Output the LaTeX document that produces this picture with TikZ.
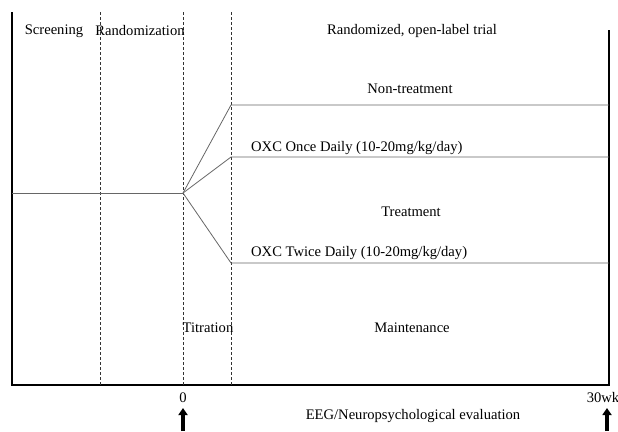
\documentclass[tikz,border=0pt]{standalone}
\usepackage{fontspec}
\setmainfont{Liberation Serif}
\usetikzlibrary{arrows.meta}
\begin{document}
\begin{tikzpicture}[x=1pt,y=-1pt,
  lbl/.style={inner sep=0pt,font=\fontsize{14.6}{16}\selectfont},
  frame/.style={line width=1.4pt,black},
  phase/.style={densely dashed,line width=0.6pt,black!80},
  arm/.style={line width=0.8pt,black!60},
  evalarrow/.style={line width=3.2pt,-{Triangle[length=7pt,width=9pt]}}]
\useasboundingbox (0,0) rectangle (618,431);
% frame
\coordinate (tl) at (12,12);
\coordinate (bl) at (12,385);
\coordinate (br) at (609,385);
\coordinate (tr) at (609,30);
\draw[frame] (tl) -- (bl) -- (br) -- (tr);
% phase dividers
\coordinate (d1t) at (100,12); \coordinate (d1b) at (100,385);
\coordinate (d2t) at (183,12); \coordinate (d2b) at (183,385);
\coordinate (d3t) at (231,12); \coordinate (d3b) at (231,385);
\draw[phase] (d1t) -- (d1b);
\draw[phase] (d2t) -- (d2b);
\draw[phase] (d3t) -- (d3b);
% arms
\coordinate (start) at (12,193);
\coordinate (split) at (183,193);
\coordinate (a1) at (231,105); \coordinate (e1) at (609,105);
\coordinate (a2) at (231,157); \coordinate (e2) at (609,157);
\coordinate (a3) at (231,263); \coordinate (e3) at (609,263);
\draw[arm] (start) -- (split);
\draw[arm] (split) -- (a1) -- (e1);
\draw[arm] (split) -- (a2) -- (e2);
\draw[arm] (split) -- (a3) -- (e3);
% labels
\node[lbl] (screen) at (54,31) {Screening};
\node[lbl] (rand) at (140,31) {Randomization};
\node[lbl] (trial) at (412,31) {Randomized, open-label trial};
\node[lbl] (nontr) at (410,89) {Non-treatment};
\node[lbl,anchor=west] (once) at (251,148) {OXC Once Daily (10-20mg/kg/day)};
\node[lbl] (treat) at (411,212) {Treatment};
\node[lbl,anchor=west] (twice) at (251,253) {OXC Twice Daily (10-20mg/kg/day)};
\node[lbl] (titr) at (208,328) {Titration};
\node[lbl] (maint) at (412,328) {Maintenance};
\node[lbl] (zero) at (183,398) {0};
\node[lbl] (wk) at (603,398) {30wk};
\node[lbl] (eeg) at (413,416) {EEG/Neuropsychological evaluation};
% arrows
\coordinate (ar1b) at (183,431); \coordinate (ar1t) at (183,408);
\coordinate (ar2b) at (607,431); \coordinate (ar2t) at (607,408);
\draw[evalarrow] (ar1b) -- (ar1t);
\draw[evalarrow] (ar2b) -- (ar2t);
\end{tikzpicture}
\end{document}
